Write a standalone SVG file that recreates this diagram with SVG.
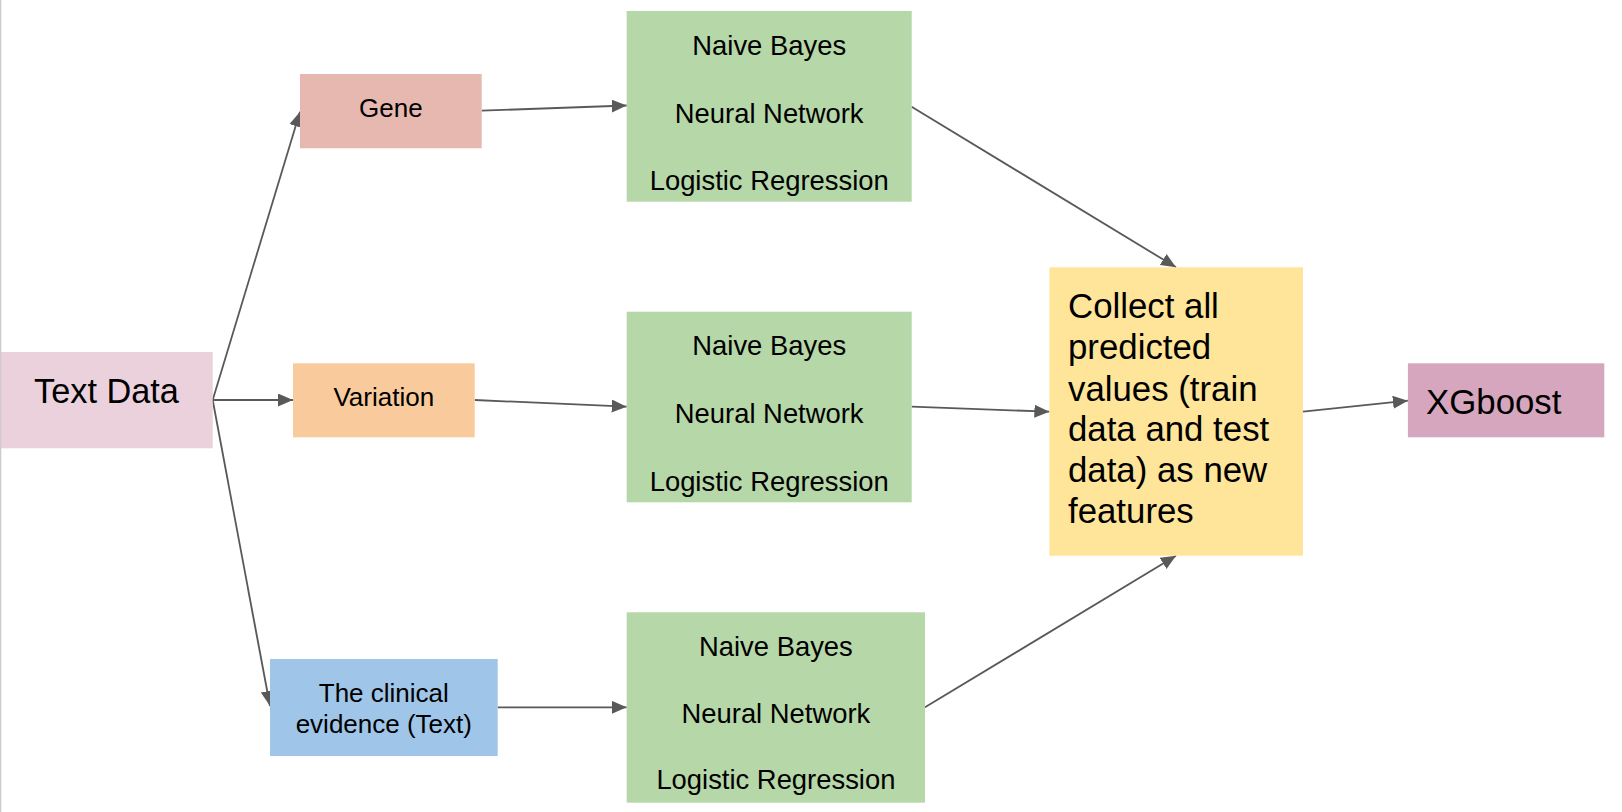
<svg xmlns="http://www.w3.org/2000/svg" width="1622" height="812" viewBox="0 0 1622 812">
<defs>
<style>
text{font-family:"Liberation Sans",Arial,sans-serif;fill:#000;}
.s{font-size:26px;text-anchor:middle;}
.m{font-size:27.4px;text-anchor:middle;}
.l{font-size:34.8px;}
.c{stroke:#595959;stroke-width:1.8;fill:none;marker-end:url(#ah);}
</style>
<marker id="ah" markerUnits="userSpaceOnUse" markerWidth="16" markerHeight="14" refX="15" refY="6.5" orient="auto">
<path d="M0,0 L15,6.5 L0,13 z" fill="#595959"/>
</marker>
</defs>
<rect x="0" y="0" width="1622" height="812" fill="#ffffff"/>
<g id="connectors">
<line class="c" x1="212.7" y1="400" x2="300" y2="111.7"/>
<line class="c" x1="212.7" y1="400" x2="293" y2="400"/>
<line class="c" x1="212.7" y1="400" x2="270" y2="706"/>
<line class="c" x1="481.7" y1="110.7" x2="626.7" y2="105.5"/>
<line class="c" x1="474.7" y1="400" x2="626.7" y2="406.7"/>
<line class="c" x1="497.7" y1="707.3" x2="626.7" y2="707.3"/>
<line class="c" x1="911.6" y1="106.7" x2="1176" y2="267.3"/>
<line class="c" x1="911.6" y1="406.7" x2="1049.4" y2="411.7"/>
<line class="c" x1="925" y1="707.3" x2="1176" y2="555.7"/>
<line class="c" x1="1303" y1="411.7" x2="1407.9" y2="400.7"/>
</g>
<g id="text-data">
<rect x="0" y="352" width="212.7" height="96.3" fill="#ead1dc"/>
<text class="l" x="106.5" y="403" text-anchor="middle" style="font-size:34.3px">Text Data</text>
</g>
<g id="gene">
<rect x="300" y="74" width="181.7" height="74.3" fill="#e6b8af"/>
<text class="s" x="390.8" y="116.7">Gene</text>
</g>
<g id="variation">
<rect x="293" y="363.3" width="181.7" height="74" fill="#f9cb9c"/>
<text class="s" x="383.8" y="406">Variation</text>
</g>
<g id="clinical">
<rect x="270" y="659" width="227.7" height="97" fill="#9fc5e8"/>
<text class="s" x="383.8" y="701.7">The clinical</text>
<text class="s" x="383.8" y="733.3">evidence (Text)</text>
</g>
<g id="models-gene">
<rect x="626.7" y="11" width="285" height="190.7" fill="#b6d7a8"/>
<text class="m" x="769.2" y="55">Naive Bayes</text>
<text class="m" x="769.2" y="122.7">Neural Network</text>
<text class="m" x="769.2" y="190">Logistic Regression</text>
</g>
<g id="models-variation">
<rect x="626.7" y="311.7" width="285" height="190.6" fill="#b6d7a8"/>
<text class="m" x="769.2" y="355">Naive Bayes</text>
<text class="m" x="769.2" y="422.7">Neural Network</text>
<text class="m" x="769.2" y="490.7">Logistic Regression</text>
</g>
<g id="models-clinical">
<rect x="626.7" y="612.3" width="298.3" height="190.4" fill="#b6d7a8"/>
<text class="m" x="775.9" y="656">Naive Bayes</text>
<text class="m" x="775.9" y="722.7">Neural Network</text>
<text class="m" x="775.9" y="789.3">Logistic Regression</text>
</g>
<g id="collect">
<rect x="1049.4" y="267.3" width="253.6" height="288.4" fill="#ffe599"/>
<text class="l" x="1068" y="318.3">Collect all</text>
<text class="l" x="1068" y="359.3">predicted</text>
<text class="l" x="1068" y="400.7">values (train</text>
<text class="l" x="1068" y="441">data and test</text>
<text class="l" x="1068" y="481.7">data) as new</text>
<text class="l" x="1068" y="523.3">features</text>
</g>
<g id="xgboost">
<rect x="1407.9" y="363.3" width="196.4" height="74" fill="#d5a6bd"/>
<text class="l" x="1426" y="414">XGboost</text>
</g>
<rect x="0" y="0" width="1.3" height="812" fill="#cccccc"/>
</svg>
